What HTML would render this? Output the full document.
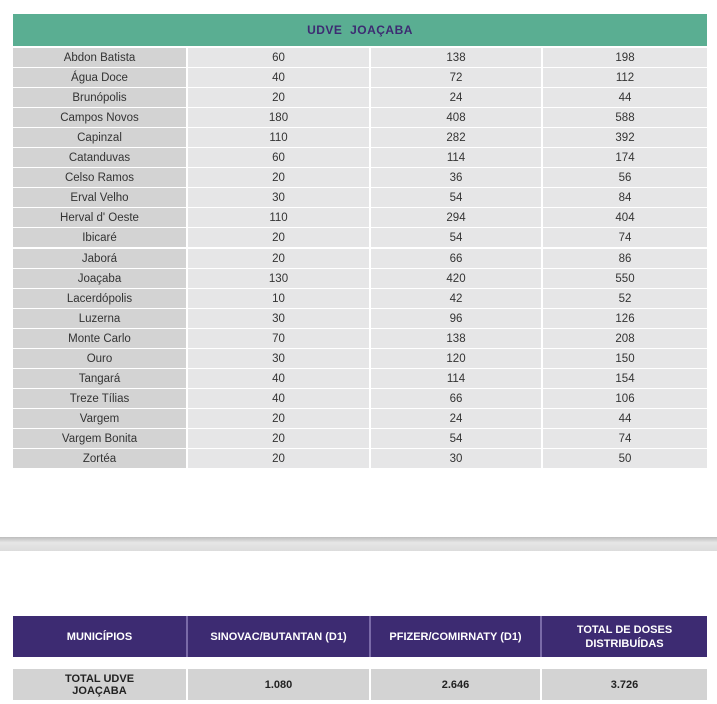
<!DOCTYPE html><html><head><style>
body{margin:0;width:717px;height:704px;background:#fff;position:relative;font-family:"Liberation Sans",sans-serif;overflow:hidden}
.c{position:absolute;display:flex;align-items:center;justify-content:center;text-align:center;font-size:11.5px;color:#333}
.h{position:absolute;left:13px;top:14px;width:694px;height:32px;background:#5aae92;color:#3d2b72;font-weight:bold;font-size:12px;display:flex;align-items:center;justify-content:center;letter-spacing:.5px}
.band{position:absolute;left:0;top:537px;width:717px;height:14px;background:linear-gradient(#bdbdbd,#e6e6e6 40%,#dcdcdc)}
.p{position:absolute;background:#3d2b72;color:#fff;font-weight:bold;font-size:11px;display:flex;align-items:center;justify-content:center;text-align:center;line-height:14px}
.t{position:absolute;background:#d3d3d3;color:#222;font-weight:bold;font-size:11px;display:flex;align-items:center;justify-content:center;text-align:center;line-height:12px}
</style></head><body>
<div class="h">UDVE&nbsp; JOAÇABA</div>
<div id="rows"></div>
<div class="band"></div>
<div class="p" style="left:13px;top:616px;width:173px;height:41px">MUNICÍPIOS</div>
<div class="p" style="left:188px;top:616px;width:181px;height:41px">SINOVAC/BUTANTAN (D1)</div>
<div class="p" style="left:371px;top:616px;width:169px;height:41px">PFIZER/COMIRNATY (D1)</div>
<div class="p" style="left:542px;top:616px;width:165px;height:41px">TOTAL DE DOSES<br>DISTRIBUÍDAS</div>
<div style="position:absolute;left:186px;top:616px;width:2px;height:41px;background:#7a6aa8"></div>
<div style="position:absolute;left:369px;top:616px;width:2px;height:41px;background:#7a6aa8"></div>
<div style="position:absolute;left:540px;top:616px;width:2px;height:41px;background:#7a6aa8"></div>
<div class="t" style="left:13px;top:669px;width:173px;height:31px">TOTAL UDVE<br>JOAÇABA</div>
<div class="t" style="left:188px;top:669px;width:181px;height:31px">1.080</div>
<div class="t" style="left:371px;top:669px;width:169px;height:31px">2.646</div>
<div class="t" style="left:542px;top:669px;width:165px;height:31px">3.726</div>
<script>
var d=[["Abdon Batista",60,138,198],["Água Doce",40,72,112],["Brunópolis",20,24,44],["Campos Novos",180,408,588],["Capinzal",110,282,392],["Catanduvas",60,114,174],["Celso Ramos",20,36,56],["Erval Velho",30,54,84],["Herval d' Oeste",110,294,404],["Ibicaré",20,54,74],["Jaborá",20,66,86],["Joaçaba",130,420,550],["Lacerdópolis",10,42,52],["Luzerna",30,96,126],["Monte Carlo",70,138,208],["Ouro",30,120,150],["Tangará",40,114,154],["Treze Tílias",40,66,106],["Vargem",20,24,44],["Vargem Bonita",20,54,74],["Zortéa",20,30,50]];
var cols=[[13,173,"#d3d3d3"],[188,181,"#e6e6e7"],[371,170,"#e6e6e7"],[543,164,"#e6e6e7"]];
var h="";
d.forEach(function(r,i){var y=Math.round(48+i*20.05);r.forEach(function(v,j){var c=cols[j];h+='<div class="c" style="left:'+c[0]+'px;top:'+y+'px;width:'+c[1]+'px;height:19px;background:'+c[2]+'">'+v+'</div>';});});
document.getElementById("rows").innerHTML=h;
</script>
</body></html>
